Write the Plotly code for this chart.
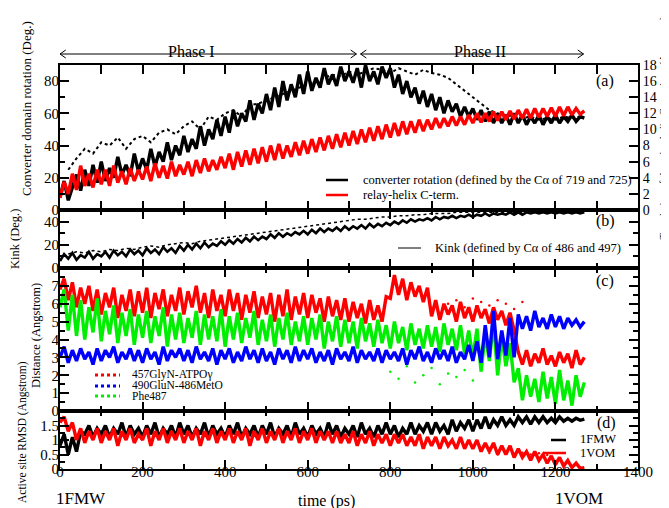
import plotly.graph_objects as go

FONT = "Liberation Serif"

# ---------------- data ----------------
# time axis: 0..1270 ps every 10 ps for the main traces
STEP = 10

# (a) converter rotation (deg), trajectory 1 (solid black)
conv_rot = [8, 18, 6, 14, 22, 12, 25, 15, 28, 17,
            30, 18, 26, 20, 33, 22, 28, 21, 35, 24,
            32, 25, 38, 27, 36, 30, 42, 31, 40, 34,
            46, 36, 44, 38, 52, 40, 50, 44, 56, 46,
            58, 48, 62, 52, 60, 55, 68, 56, 66, 60,
            72, 62, 76, 64, 80, 68, 78, 70, 84, 72,
            86, 74, 82, 76, 88, 78, 84, 77, 89, 80,
            86, 79, 88, 76, 90, 80, 86, 78, 89, 82,
            88, 76, 84, 72, 80, 70, 76, 66, 74, 64,
            72, 62, 70, 60, 68, 61, 66, 58, 64, 58,
            63, 56, 62, 55, 61, 54, 60, 54, 59, 53,
            60, 54, 59, 53, 58, 54, 59, 53, 58, 54,
            59, 54, 58, 55, 59, 55, 58, 57]
# (a) converter rotation (deg), trajectory 2 (dotted black), every 20 ps from 20 ps
conv_rot_2 = [25, 32, 38, 35, 42, 40, 45, 38, 44, 46, 42, 48, 50, 47, 52, 55, 50, 58, 56, 60,
              62, 58, 65, 66, 68, 70, 72, 74, 76, 78, 80, 82, 84, 83, 86, 84, 86, 88, 87, 85,
              88, 86, 84, 87, 85, 84, 82, 78, 74, 70, 66, 62, 60, 58, 59, 57, 58, 56, 57, 56,
              58, 57, 58]
# (a) relay-helix C-terminus translation (Angstrom, right axis)
relay_shift = [1.5, 3.5, 2.0, 4.5, 2.5, 5.5, 3.0, 4.5, 2.8, 5.0,
               3.2, 5.0, 3.0, 5.5, 3.4, 4.8, 3.2, 5.2, 3.6, 5.0,
               3.8, 5.4, 3.6, 5.8, 4.0, 5.5, 3.9, 6.0, 4.2, 5.6,
               4.4, 6.0, 4.2, 6.2, 4.6, 6.4, 4.8, 6.2, 5.0, 6.6,
               5.2, 7.0, 5.0, 7.2, 5.4, 7.4, 5.6, 7.6, 5.8, 7.8,
               6.0, 8.0, 6.2, 8.2, 6.4, 8.0, 6.6, 8.4, 6.8, 8.6,
               7.0, 8.8, 7.2, 9.0, 7.4, 9.2, 7.6, 9.4, 7.8, 9.6,
               8.0, 9.8, 8.2, 10.0, 8.4, 10.2, 8.6, 10.4, 8.8, 10.6,
               9.0, 10.8, 9.2, 11.0, 9.4, 11.0, 9.6, 11.2, 9.8, 11.2,
               10.0, 11.4, 10.2, 11.4, 10.4, 11.6, 10.5, 11.6, 10.6, 11.8,
               10.8, 12.0, 10.9, 12.0, 11.0, 12.2, 11.1, 12.2, 11.2, 12.3,
               11.3, 12.4, 11.4, 12.5, 11.4, 12.6, 11.5, 12.6, 11.6, 12.7,
               11.6, 12.8, 11.7, 12.8, 11.8, 12.6, 11.9, 12.3]

# (b) kink angle (deg)
kink = [6, 12, 8, 13, 7, 11, 9, 14, 8, 12,
        10, 14, 9, 15, 11, 14, 10, 16, 12, 15,
        11, 17, 13, 16, 12, 18, 14, 17, 13, 19,
        15, 20, 16, 21, 17, 22, 18, 21, 19, 23,
        20, 24, 21, 25, 22, 26, 23, 27, 24, 27,
        25, 29, 26, 30, 27, 30, 28, 31, 29, 32,
        29, 33, 30, 34, 31, 34, 32, 35, 32, 36,
        33, 36, 34, 37, 34, 38, 35, 38, 36, 39,
        37, 40, 38, 41, 39, 42, 40, 42, 41, 43,
        41, 44, 42, 44, 43, 45, 43, 45, 44, 46,
        44, 46, 45, 47, 45, 47, 46, 47, 46, 48,
        46, 48, 46, 48, 47, 48, 47, 48, 47, 48,
        47, 48, 47, 48, 47, 48, 47, 48]
# (b) kink, second trajectory (dotted), every 20 ps from 20 ps
kink_2 = [12, 14, 13, 15, 14, 16, 15, 17, 16, 18, 19, 18, 20, 21, 22, 21, 23, 24, 25, 26,
          27, 28, 29, 30, 31, 32, 33, 34, 35, 36, 37, 38, 39, 40, 41, 42, 42, 43, 44, 44,
          45, 45, 46, 46, 47, 47, 47, 48, 48, 48, 48, 48, 48, 48, 48, 48, 48, 48, 48, 48]

# (c) distances (Angstrom)
dist_457 = [6.8, 7.4, 6.2, 7.2, 5.8, 6.9, 6.0, 7.0, 5.6, 6.8,
            5.4, 6.6, 5.8, 6.9, 5.2, 6.5, 5.6, 6.8, 5.3, 6.7,
            5.5, 6.9, 5.2, 6.6, 5.7, 6.8, 5.3, 6.5, 5.6, 6.9,
            5.4, 6.7, 5.8, 7.0, 5.5, 6.6, 5.2, 6.8, 5.6, 6.5,
            5.3, 6.8, 5.6, 6.6, 5.1, 6.5, 5.5, 6.7, 5.2, 6.4,
            5.4, 6.6, 5.0, 6.5, 5.3, 6.8, 5.1, 6.4, 5.4, 6.6,
            5.2, 6.5, 5.5, 6.3, 5.0, 6.4, 5.3, 6.2, 5.1, 6.3,
            5.0, 6.1, 5.2, 6.0, 4.9, 6.2, 5.1, 5.9, 5.0, 6.4,
            6.3, 7.6, 6.5, 7.4, 6.2, 7.2, 6.4, 7.0, 6.1, 6.9,
            5.3, 6.2, 5.1, 6.0, 5.4, 5.9, 5.0, 6.1, 5.2, 5.8,
            5.0, 5.9, 5.2, 5.7, 4.9, 5.8, 5.1, 5.6, 4.8, 5.5,
            4.5, 3.3, 2.6, 3.4, 2.5, 3.2, 2.7, 3.5, 2.6, 3.1,
            2.5, 3.3, 2.7, 3.2, 2.4, 3.4, 2.6, 3.0]
dist_490 = [3.0, 3.6, 2.7, 3.4, 2.8, 3.5, 2.9, 3.3, 2.6, 3.5,
            2.8, 3.4, 3.0, 3.6, 2.7, 3.3, 2.9, 3.5, 2.8, 3.4,
            2.7, 3.5, 2.9, 3.3, 2.6, 3.6, 2.8, 3.4, 3.0, 3.5,
            2.8, 3.4, 2.7, 3.6, 2.9, 3.3, 2.8, 3.5, 2.6, 3.4,
            2.9, 3.5, 2.7, 3.3, 2.8, 3.6, 2.9, 3.4, 2.7, 3.5,
            2.8, 3.3, 2.6, 3.5, 2.9, 3.4, 2.7, 3.6, 2.8, 3.4,
            2.9, 3.5, 2.7, 3.3, 2.8, 3.4, 2.6, 3.5, 2.9, 3.3,
            2.8, 3.6, 2.7, 3.4, 2.9, 3.3, 2.8, 3.5, 2.7, 3.4,
            2.9, 3.3, 2.8, 3.5, 2.6, 3.4, 2.9, 3.6, 2.8, 3.3,
            2.7, 3.5, 2.9, 3.4, 2.8, 3.6, 2.7, 3.3, 2.9, 3.7,
            2.8, 3.9, 2.7, 4.8, 3.0, 5.6, 2.9, 4.5, 3.1, 5.2,
            3.0, 5.4, 4.6, 5.3, 4.5, 5.6, 4.7, 5.2, 4.6, 5.4,
            4.7, 5.3, 4.6, 5.2, 4.8, 5.1, 4.7, 5.0]
dist_phe = [5.8, 6.8, 4.5, 6.5, 4.2, 6.2, 4.0, 5.8, 4.4, 6.3,
            3.9, 5.6, 4.3, 5.9, 3.8, 5.5, 4.2, 5.7, 3.7, 5.4,
            4.1, 5.6, 3.8, 5.3, 4.2, 5.8, 3.6, 5.4, 4.0, 5.5,
            3.8, 5.2, 4.1, 5.6, 3.7, 5.4, 4.0, 5.3, 3.9, 5.7,
            3.6, 5.3, 4.0, 5.5, 3.8, 5.2, 4.1, 5.6, 3.7, 5.1,
            3.9, 5.4, 3.6, 5.2, 4.0, 5.5, 3.7, 5.0, 3.9, 5.3,
            3.7, 5.2, 4.0, 5.4, 3.5, 5.0, 3.9, 5.3, 3.6, 5.1,
            3.8, 5.0, 3.5, 5.2, 3.9, 4.9, 3.6, 5.1, 3.8, 4.8,
            3.5, 5.0, 3.8, 4.7, 3.4, 4.9, 3.7, 4.6, 3.5, 4.8,
            3.6, 4.7, 3.3, 4.9, 3.7, 4.6, 3.4, 4.8, 3.2, 4.5,
            3.0, 4.6, 2.2, 4.3, 2.8, 5.0, 2.0, 4.2, 2.5, 3.8,
            1.6, 2.4, 0.6, 2.0, 0.8, 1.8, 0.5, 2.2, 0.7, 1.9,
            0.4, 2.3, 0.6, 1.7, 0.3, 2.0, 0.8, 1.6]
# scattered points of the second trajectory (every 20 ps)
dist_457_b_start = 940
dist_457_b = [6.0, 6.2, 5.8, 6.3, 6.1, 5.9, 6.2, 6.0, 5.7, 6.1]
dist_phe_b_start = 800
dist_phe_b = [2.2, 1.8, 2.5, 1.6, 2.0, 2.4, 1.5, 2.1, 1.9, 2.3, 1.7]

# (d) active-site RMSD (Angstrom)
rmsd_1fmw = [0.8, 1.2, 0.5, 1.1, 0.6, 1.3, 1.2, 1.5, 1.1, 1.4,
             1.2, 1.5, 1.1, 1.4, 1.2, 1.6, 1.1, 1.5, 1.2, 1.4,
             1.1, 1.5, 1.2, 1.6, 1.1, 1.4, 1.2, 1.5, 1.1, 1.6,
             1.2, 1.5, 1.1, 1.4, 1.2, 1.6, 1.1, 1.5, 1.2, 1.4,
             1.1, 1.5, 1.2, 1.6, 1.1, 1.4, 1.2, 1.5, 1.1, 1.5,
             1.2, 1.6, 1.1, 1.4, 1.2, 1.5, 1.1, 1.6, 1.2, 1.4,
             1.1, 1.5, 1.2, 1.4, 1.1, 1.6, 1.2, 1.5, 1.1, 1.4,
             1.2, 1.5, 1.1, 1.6, 1.2, 1.4, 1.1, 1.5, 1.2, 1.6,
             1.2, 1.5, 1.1, 1.4, 1.2, 1.6, 1.2, 1.5, 1.3, 1.6,
             1.2, 1.6, 1.3, 1.5, 1.2, 1.7, 1.3, 1.6, 1.4, 1.7,
             1.3, 1.7, 1.4, 1.8, 1.4, 1.7, 1.5, 1.8, 1.5, 1.7,
             1.5, 1.8, 1.6, 1.8, 1.55, 1.8, 1.6, 1.8, 1.6, 1.75,
             1.6, 1.8, 1.65, 1.75, 1.65, 1.75, 1.68, 1.72]
rmsd_1vom = [1.6, 1.8, 1.3, 1.6, 1.0, 1.4, 0.9, 1.3, 1.0, 1.4,
             0.9, 1.3, 1.0, 1.4, 0.8, 1.3, 1.0, 1.4, 0.9, 1.2,
             1.0, 1.4, 0.8, 1.3, 1.0, 1.4, 0.9, 1.3, 1.0, 1.4,
             0.9, 1.3, 1.0, 1.4, 0.8, 1.3, 1.0, 1.4, 0.9, 1.3,
             1.0, 1.4, 0.9, 1.3, 1.0, 1.4, 0.8, 1.3, 1.0, 1.4,
             0.9, 1.3, 1.0, 1.4, 0.9, 1.3, 1.0, 1.4, 0.9, 1.3,
             1.0, 1.4, 0.9, 1.3, 1.0, 1.3, 0.9, 1.3, 0.9, 1.2,
             0.9, 1.3, 0.8, 1.2, 0.9, 1.3, 0.8, 1.2, 0.9, 1.2,
             0.8, 1.2, 0.9, 1.2, 0.8, 1.1, 0.8, 1.2, 0.7, 1.1,
             0.8, 1.1, 0.7, 1.1, 0.8, 1.0, 0.7, 1.1, 0.7, 1.0,
             0.7, 1.0, 0.6, 0.9, 0.6, 0.9, 0.5, 0.8, 0.5, 0.8,
             0.4, 0.7, 0.4, 0.6, 0.3, 0.6, 0.3, 0.5, 0.2, 0.45,
             0.15, 0.4, 0.1, 0.3, 0.05, 0.2, 0.02, 0.05]
rmsd_1vom_b_start = 1040
rmsd_1vom_b = [0.55, 0.5, 0.58, 0.52, 0.56, 0.5, 0.54, 0.48]

x_ticks = [0, 200, 400, 600, 800, 1000, 1200, 1400]
phase_labels = ["Phase I", "Phase II"]
phase_spans = [(0, 718), (728, 1268)]


def times(n, start=0, step=STEP):
    return list(range(start, start + step * n, step))


# ---------------- geometry helpers (pixels -> paper) ----------------
W, H = 669, 508
L, R, T, B = 52, 39, 57, 47
PW, PH = W - L - R, H - T - B


def px(xp):
    return (xp - L) / PW


def py(yp):
    return (H - B - yp) / PH


dom_a = [py(202), 1.0]
dom_b = [py(260), py(202)]
dom_c = [py(403), py(260)]
dom_d = [0.0, py(403)]

RED, BLUE, GREEN, BLACK = "#ff0000", "#0000ff", "#00ee00", "#000000"
LW = 3.4

fig = go.Figure()
# (a)
fig.add_trace(go.Scatter(x=times(len(conv_rot_2), 20, 20), y=conv_rot_2, mode="lines",
                         line=dict(color=BLACK, width=2, dash="dot"), xaxis="x", yaxis="y", showlegend=False))
fig.add_trace(go.Scatter(x=times(len(conv_rot)), y=conv_rot, mode="lines",
                         line=dict(color=BLACK, width=LW), xaxis="x", yaxis="y",
                         name="converter rotation", showlegend=False))
fig.add_trace(go.Scatter(x=times(len(relay_shift)), y=relay_shift, mode="lines",
                         line=dict(color=RED, width=LW), xaxis="x", yaxis="y5",
                         name="relay-helix C-term.", showlegend=False))
# (b)
fig.add_trace(go.Scatter(x=times(len(kink_2), 20, 20), y=kink_2, mode="lines",
                         line=dict(color=BLACK, width=1.5, dash="dot"), xaxis="x2", yaxis="y2", showlegend=False))
fig.add_trace(go.Scatter(x=times(len(kink)), y=kink, mode="lines",
                         line=dict(color=BLACK, width=2.6), xaxis="x2", yaxis="y2",
                         name="Kink", showlegend=False))
# (c)
fig.add_trace(go.Scatter(x=times(len(dist_457)), y=dist_457, mode="lines",
                         line=dict(color=RED, width=LW), xaxis="x3", yaxis="y3",
                         name="457GlyN-ATPOγ", showlegend=False))
fig.add_trace(go.Scatter(x=times(len(dist_457_b), dist_457_b_start, 20), y=dist_457_b, mode="markers",
                         marker=dict(color=RED, size=2.5), xaxis="x3", yaxis="y3", showlegend=False))
fig.add_trace(go.Scatter(x=times(len(dist_phe)), y=dist_phe, mode="lines",
                         line=dict(color=GREEN, width=LW), xaxis="x3", yaxis="y3",
                         name="Phe487", showlegend=False))
fig.add_trace(go.Scatter(x=times(len(dist_phe_b), dist_phe_b_start, 20), y=dist_phe_b, mode="markers",
                         marker=dict(color=GREEN, size=2.5), xaxis="x3", yaxis="y3", showlegend=False))
fig.add_trace(go.Scatter(x=times(len(dist_490)), y=dist_490, mode="lines",
                         line=dict(color=BLUE, width=LW), xaxis="x3", yaxis="y3",
                         name="490GluN-486MetO", showlegend=False))
# (d)
fig.add_trace(go.Scatter(x=times(len(rmsd_1fmw)), y=rmsd_1fmw, mode="lines",
                         line=dict(color=BLACK, width=LW), xaxis="x4", yaxis="y4",
                         name="1FMW", showlegend=False))
fig.add_trace(go.Scatter(x=times(len(rmsd_1vom)), y=rmsd_1vom, mode="lines",
                         line=dict(color=RED, width=LW), xaxis="x4", yaxis="y4",
                         name="1VOM", showlegend=False))
fig.add_trace(go.Scatter(x=times(len(rmsd_1vom_b), rmsd_1vom_b_start, 20), y=rmsd_1vom_b, mode="markers",
                         marker=dict(color=RED, size=2.5), xaxis="x4", yaxis="y4", showlegend=False))

tickfont = dict(family=FONT, size=15, color="black")


def xax(anchor, labels):
    return dict(anchor=anchor, domain=[0, 1], range=[0, 1400], showline=True, linewidth=2,
                linecolor="black", mirror="allticks", ticks="inside", ticklen=9, tickwidth=2,
                tickcolor="black", tickvals=x_ticks, showticklabels=labels, tickfont=tickfont,
                showgrid=False, zeroline=False, ticklabelstandoff=-12,
                minor=dict(ticks="inside", dtick=100, ticklen=5, tickwidth=1.5, tickcolor="black"))


def yax(anchor, dom, rng, tv, minor_dt, mirror="allticks", ttext=None):
    d = dict(anchor=anchor, domain=dom, range=rng, showline=True, linewidth=2, linecolor="black",
             mirror=mirror, ticks="inside", ticklen=9, tickwidth=2, tickcolor="black",
             tickvals=tv, tickfont=tickfont, showgrid=False, zeroline=False, ticklabelstandoff=-4,
             minor=dict(ticks="inside", dtick=minor_dt, ticklen=5, tickwidth=1.5, tickcolor="black"))
    if ttext is not None:
        d["ticktext"] = ttext
    return d


layout = dict(
    width=W, height=H, margin=dict(l=L, r=R, t=T, b=B, autoexpand=False),
    paper_bgcolor="white", plot_bgcolor="white", showlegend=False,
    font=dict(family=FONT, color="black"),
    xaxis=xax("y", False), xaxis2=xax("y2", False), xaxis3=xax("y3", False), xaxis4=xax("y4", True),
    yaxis=yax("x", dom_a, [0, 90], [0, 20, 40, 60, 80], 10, mirror=False),
    yaxis2=yax("x2", dom_b, [0, 50], [0, 20, 40], 10),
    yaxis3=yax("x3", dom_c, [0, 8], [0, 1, 2, 3, 4, 5, 6, 7], 0.5),
    yaxis4=yax("x4", dom_d, [0, 2], [0, 0.5, 1, 1.5], 0.25, ttext=["0", "0.5", "1", "1.5"]),
)
layout["yaxis5"] = dict(overlaying="y", side="right", anchor="x", range=[0, 18], showline=True,
                        linewidth=2, linecolor="black", ticks="inside", ticklen=9, tickwidth=2,
                        tickcolor="black", dtick=2, tick0=0, tickfont=dict(family=FONT, size=14, color="black"),
                        showgrid=False, zeroline=False)
fig.update_layout(**layout)

ann = []
shapes = []


def text(xp, yp, s, size, xanchor="center", angle=0, yanchor="middle"):
    ann.append(dict(x=px(xp), y=py(yp), xref="paper", yref="paper", text=s, showarrow=False,
                    xanchor=xanchor, yanchor=yanchor, textangle=angle,
                    font=dict(family=FONT, size=size, color="black")))


def seg(x0, x1, yp, color, width, dash="solid"):
    shapes.append(dict(type="line", xref="paper", yref="paper", x0=px(x0), x1=px(x1),
                       y0=py(yp), y1=py(yp), line=dict(color=color, width=width, dash=dash)))


# axis titles
text(18, 101, "Converter domain rotation (Deg.)", 13, angle=-90)
text(7, 231, "Kink (Deg.)", 12.5, angle=-90)
text(28, 328, "Distance (Angstrom)", 12.5, angle=-90)
text(14, 424, "Active site RMSD (Angstrom)", 11.5, angle=-90)
text(656, 234, "Translation of the relay helix C-terminus (Angstrom)", 10.5, angle=-90, yanchor="bottom")
text(318, 493, "time (ps)", 16)
text(73, 490, "1FMW", 17)
text(571, 490, "1VOM", 17)

# panel labels
text(597, 73, "(a)", 16)
text(597, 213, "(b)", 16)
text(597, 273, "(c)", 16)
text(598, 415, "(d)", 16)

# legends
seg(318, 340, 172, BLACK, 2.5)
text(353, 172, "converter rotation (defined by the Cα of 719 and 725)", 12.5, xanchor="left")
seg(318, 340, 187, RED, 2.5)
text(353, 187, "relay-helix C-term.", 12.5, xanchor="left")
seg(390, 413, 240, BLACK, 1)
text(425, 240, "Kink (defined by Cα of 486 and 497)", 12.5, xanchor="left")
seg(87, 112, 367, RED, 3, "dot")
text(122, 366, "457GlyN-ATPOγ", 11.5, xanchor="left")
seg(87, 112, 378, BLUE, 3, "dot")
text(122, 377, "490GluN-486MetO", 11.5, xanchor="left")
seg(87, 112, 388, GREEN, 3, "dot")
text(122, 388, "Phe487", 11.5, xanchor="left")
seg(543, 558, 432, BLACK, 2.5)
text(570, 431, "1FMW", 12.5, xanchor="left")
seg(535, 558, 445, RED, 2.5)
text(570, 445, "1VOM", 12.5, xanchor="left")

# phase arrows
ya = py(46)
dy = 4 / PH
hx = 14
for (a, b), lab in zip(phase_spans, phase_labels):
    shapes.append(dict(type="line", xref="x", yref="paper", x0=a, x1=b, y0=ya, y1=ya,
                       line=dict(color="black", width=1)))
    shapes.append(dict(type="path", xref="x", yref="paper",
                       path=f"M {a + hx},{ya + dy} L {a},{ya} L {a + hx},{ya - dy}",
                       line=dict(color="black", width=1)))
    shapes.append(dict(type="path", xref="x", yref="paper",
                       path=f"M {b - hx},{ya + dy} L {b},{ya} L {b - hx},{ya - dy}",
                       line=dict(color="black", width=1)))
    ann.append(dict(x=(a + b) / 2 - 40 if lab == "Phase I" else (a + b) / 2 + 20, y=py(33),
                    xref="x", yref="paper", text=lab, showarrow=False,
                    font=dict(family=FONT, size=16, color="black")))

fig.update_layout(annotations=ann, shapes=shapes)
fig.write_html("out.html")
